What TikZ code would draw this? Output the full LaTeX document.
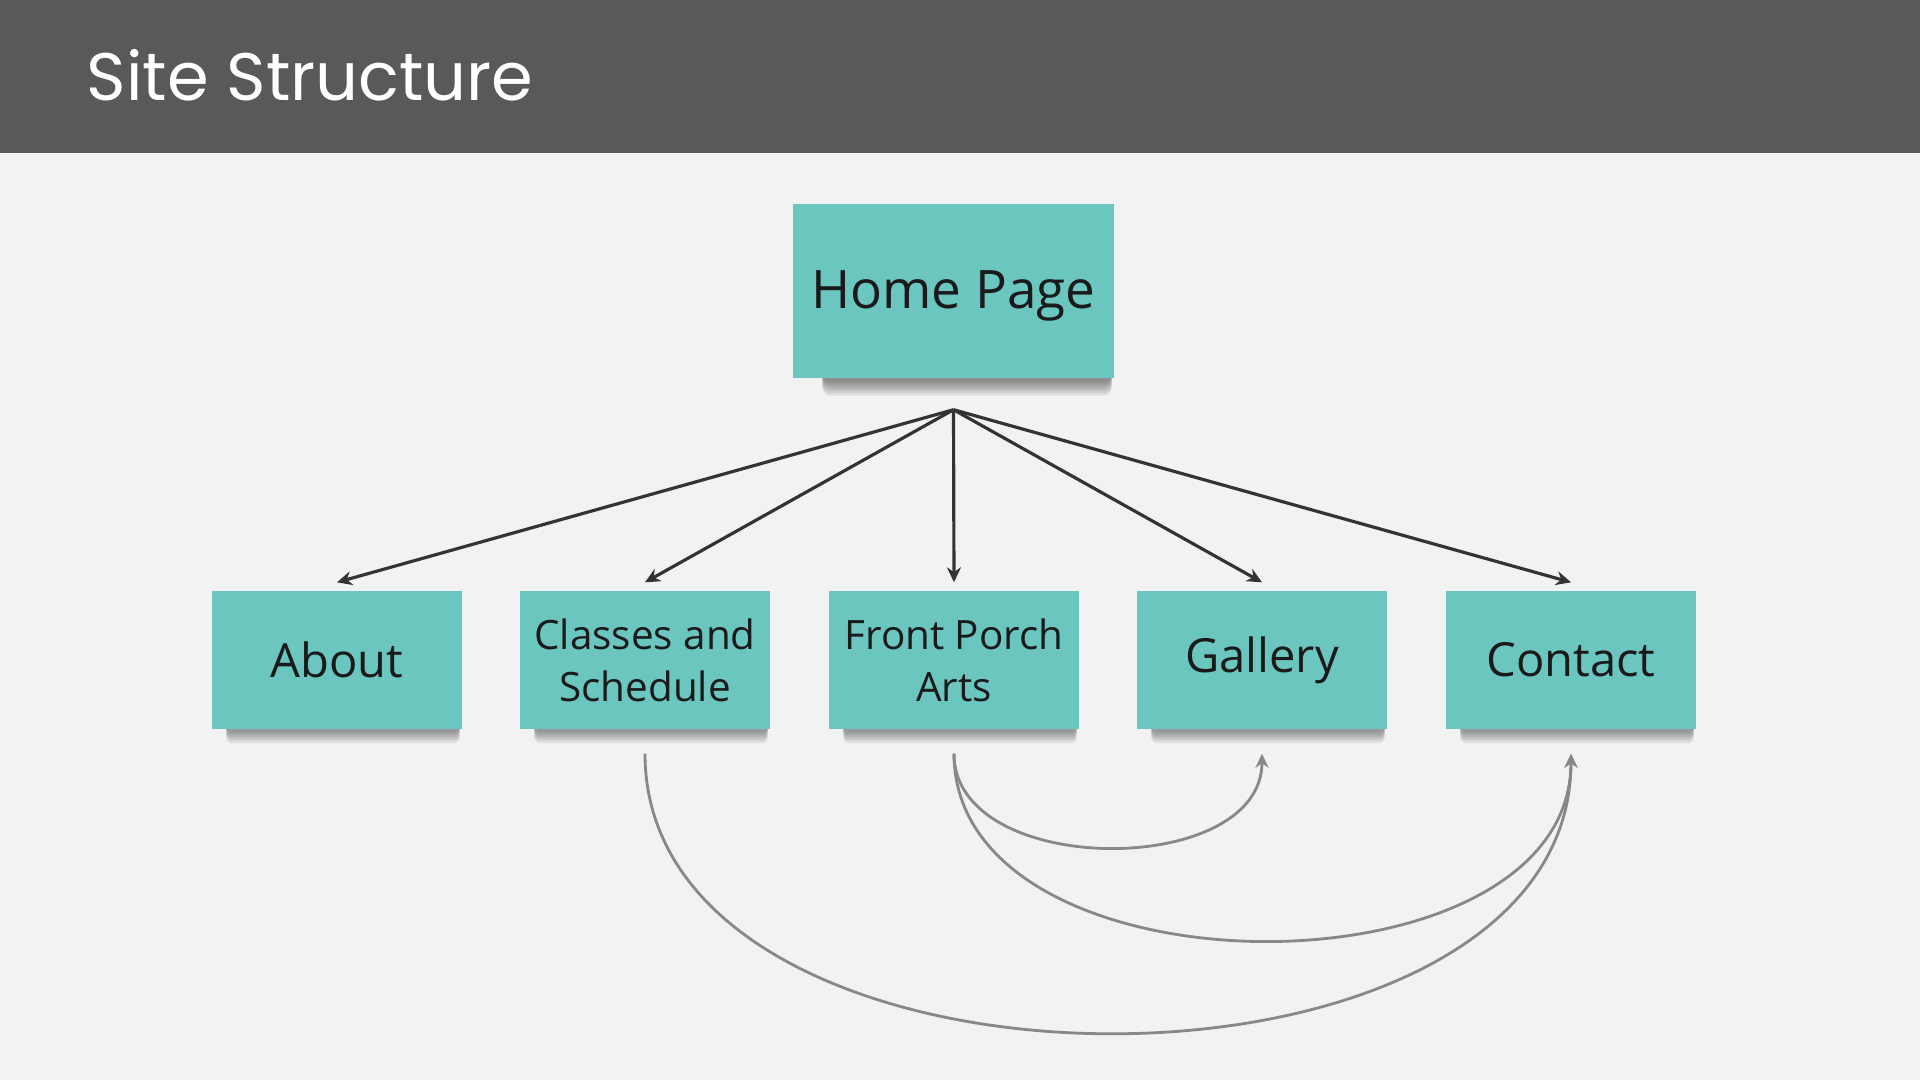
\documentclass[tikz,border=0pt]{standalone}
\usepackage{fontspec}
\setmainfont{Open Sans}
\newfontfamily\titlefont{Poppins}
\usetikzlibrary{calc,arrows.meta}
\pgfdeclarelayer{bg}
\pgfsetlayers{bg,main}
\definecolor{hdr}{HTML}{595959}
\definecolor{pagebg}{HTML}{F2F2F2}
\definecolor{teal}{HTML}{6AC6BE}
\definecolor{ink}{HTML}{1A1A1A}
\definecolor{arr}{HTML}{333333}
\definecolor{curv}{HTML}{888888}
\tikzset{
  sticky/.style={fill=teal, inner sep=0pt, text=ink, align=center},
  homebox/.style={sticky, minimum width=32.1mm, minimum height=17.4mm, text height=4.8mm, text depth=1.28mm, font=\fontsize{15.1pt}{20pt}\selectfont},
  childbox/.style={sticky, minimum width=25mm, minimum height=13.8mm, font=\fontsize{13.4pt}{17.6pt}\selectfont},
  twoline/.style={font=\fontsize{11.5pt}{14.8pt}\selectfont},
  fanarrow/.style={draw=arr, line width=0.9pt, -{Stealth[length=1.5mm,width=1.4mm]}},
  linkcurve/.style={draw=curv, line width=0.8pt, -{Stealth[length=1.4mm,width=1.3mm]}},
}
\begin{document}
\begin{tikzpicture}[x=0.1mm, y=-0.1mm]
\useasboundingbox (0,0) rectangle (1920,1080);
\begin{pgfonlayer}{bg}
  \fill[pagebg] (0,0) rectangle (1920,1080);
\end{pgfonlayer}
\fill[hdr] (0,0) rectangle (1920,153);
\node[anchor=base west, text=white, inner sep=0pt, font=\titlefont\fontsize{19.1pt}{24pt}\selectfont] (title) at (86,100) {Site Structure};

\node[homebox] (home) at (953.5,291) {Home Page};
\node[childbox] (about) at (337,660) {About};
\node[childbox, twoline] (classes) at (645,660) {Classes and\\Schedule};
\node[childbox, twoline] (front) at (954,660) {Front Porch\\Arts};
\node[childbox] (gallery) at (1262,660) {Gallery};
\node[childbox] (contact) at (1571,660) {Contact};

\begin{pgfonlayer}{bg}
  \foreach \n in {about,classes,front,gallery,contact}{
    \foreach \i in {1,...,6}{
      \fill[black, opacity=0.07, rounded corners=0.6mm]
        ([xshift=1.5mm,yshift=0.6mm]\n.south west) rectangle
        ([xshift=-0.3mm,yshift={-(0.15+0.2*\i)*1mm}]\n.south east);
    }
  }
  \foreach \i in {1,...,7}{
    \fill[black, opacity=0.07, rounded corners=0.8mm]
      ([xshift=3mm,yshift=0.6mm]home.south west) rectangle
      ([xshift=-0.3mm,yshift={-(0.15+0.22*\i)*1mm}]home.south east);
  }
\end{pgfonlayer}

\coordinate (hub) at ([yshift=-3.1mm]home.south);
\foreach \n in {about,classes,front,gallery,contact}{
  \draw[fanarrow] (hub) -- ([yshift=0.8mm]\n.north);
  \coordinate (\n-low) at ([yshift=-2.4mm]\n.south);
}

\draw[linkcurve] (classes-low) .. controls ($(classes-low)+(0,372)$) and ($(contact-low)+(0,372)$) .. (contact-low);
\draw[linkcurve] (front-low) .. controls ($(front-low)+(0,249)$) and ($(contact-low)+(0,249)$) .. (contact-low);
\draw[linkcurve] (front-low) .. controls ($(front-low)+(0,125)$) and ($(gallery-low)+(0,125)$) .. (gallery-low);
\end{tikzpicture}
\end{document}
